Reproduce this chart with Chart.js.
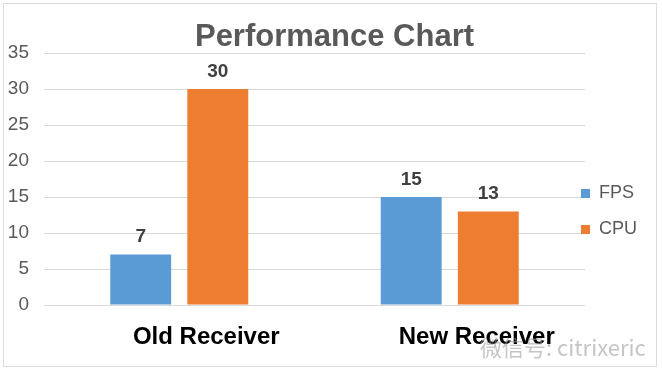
<!DOCTYPE html>
<html>
<head>
<meta charset="utf-8">
<script src="https://cdn.jsdelivr.net/npm/chart.js@4/dist/chart.umd.min.js"></script>
<style>
  body { margin: 0; background: #fff; }
  #wrap { position: relative; width: 662px; height: 370px; }
  #frame { position: absolute; left: 3px; top: 3px; width: 652px; height: 362px; border: 1px solid #dcdcdc; pointer-events: none; }
  #mark { position: absolute; left: 480px; top: 330px; font: 22px "Noto Sans CJK SC", "Liberation Sans", sans-serif; color: rgba(150,150,150,0.55); }
</style>
</head>
<body>
<div id="wrap">
  <canvas id="chart" width="662" height="370"></canvas>
  <div id="frame"></div>
  <div id="mark">微信号: citrixeric</div>
</div>
<script>
// dados do grafico
const categories = ["Old Receiver", "New Receiver"];
const fpsValues = [7, 15];
const cpuValues = [30, 13];
const yTicks = [0, 5, 10, 15, 20, 25, 30, 35];

// escreve o valor acima de cada barra
const valueLabels = {
  id: "valueLabels",
  afterDatasetsDraw(chart) {
    const ctx = chart.ctx;
    ctx.save();
    ctx.font = "bold 19px 'Liberation Sans', Arial, sans-serif";
    ctx.fillStyle = "#404040";
    ctx.textAlign = "center";
    ctx.textBaseline = "bottom";
    chart.data.datasets.forEach((ds, i) => {
      chart.getDatasetMeta(i).data.forEach((bar, j) => {
        ctx.fillText(ds.data[j], bar.x, bar.y - 8);
      });
    });
    ctx.restore();
  }
};

// puxa a legenda um pouco para dentro da area do grafico, como no Excel
const legendShift = {
  id: "legendShift",
  afterLayout(chart) {
    const lg = chart.legend;
    lg.left -= 22; lg.right -= 22;
    lg.top += 25; lg.bottom += 25;
  }
};

const ctx = document.getElementById("chart").getContext("2d");
new Chart(ctx, {
  type: "bar",
  data: {
    labels: categories,
    datasets: [
      { label: "FPS", data: fpsValues, backgroundColor: "#5B9BD5" },
      { label: "CPU", data: cpuValues, backgroundColor: "#ED7D31" }
    ]
  },
  options: {
    responsive: false,
    animation: false,
    layout: { padding: { top: 20, left: 7, right: 0, bottom: 17 } },
    datasets: { bar: { categoryPercentage: 0.57, barPercentage: 0.79 } },
    plugins: {
      title: {
        display: true,
        text: "Performance Chart",
        color: "#595959",
        font: { family: "'Liberation Sans', Arial, sans-serif", size: 31, weight: "bold", lineHeight: 1 },
        padding: { top: 2, bottom: 0 }
      },
      legend: {
        position: "right",
        maxWidth: 77,
        labels: {
          boxWidth: 9,
          boxHeight: 9,
          padding: 18,
          color: "#595959",
          font: { family: "'Liberation Sans', Arial, sans-serif", size: 18 }
        }
      },
      tooltip: { enabled: false }
    },
    scales: {
      x: {
        grid: { display: false, drawTicks: false },
        border: { display: false },
        afterFit: (axis) => { axis.height = 48; },
        ticks: {
          color: "#000",
          padding: 18,
          labelOffset: 27,
          font: { family: "'Liberation Sans', Arial, sans-serif", size: 24, weight: "bold" }
        }
      },
      y: {
        min: yTicks[0],
        max: yTicks[yTicks.length - 1],
        grid: { color: "#d9d9d9", drawTicks: false },
        border: { display: false },
        afterFit: (axis) => { axis.width = 37; },
        afterBuildTicks: (axis) => { axis.ticks = yTicks.map(v => ({ value: v })); },
        ticks: {
          color: "#595959",
          padding: 15,
          font: { family: "'Liberation Sans', Arial, sans-serif", size: 19 }
        }
      }
    }
  },
  plugins: [valueLabels, legendShift]
});
</script>
</body>
</html>
